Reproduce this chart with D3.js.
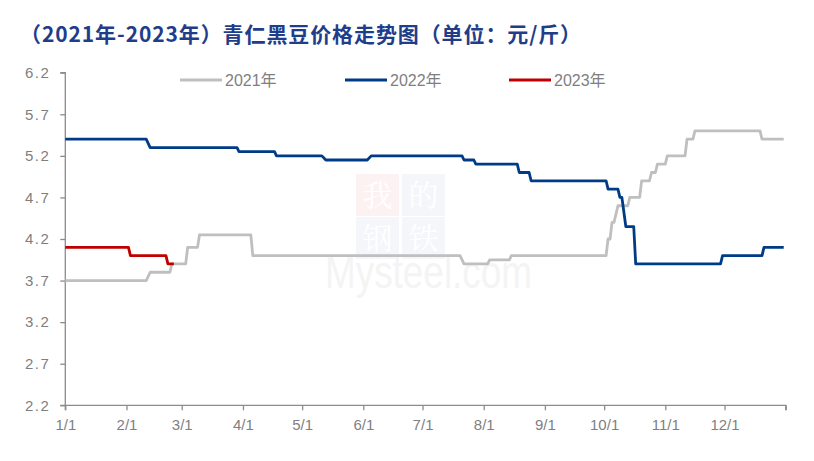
<!DOCTYPE html>
<html><head><meta charset="utf-8">
<script src="https://cdn.jsdelivr.net/npm/d3@7"></script>
<style>body{margin:0;background:#fff;} svg{display:block;}</style>
</head><body>
<svg id="chart" width="814" height="461"></svg>
<script>
// ---- data ----
const titleText = "（2021年-2023年）青仁黑豆价格走势图（单位：元/斤）";
const seriesNames = ["2021年", "2022年", "2023年"];
const seriesColors = ["#BFBFBF", "#003B87", "#C00000"];
const yTicks = [2.2, 2.7, 3.2, 3.7, 4.2, 4.7, 5.2, 5.7, 6.2];
const xTickLabels = ["1/1","2/1","3/1","4/1","5/1","6/1","7/1","8/1","9/1","10/1","11/1","12/1"];

const dates2021 = ["01-01","02-11","02-13","02-23","02-24","03-03","03-04","03-09","03-10","04-05","04-06",
  "07-20","07-22","08-03","08-04","08-14","08-15","10-02","10-03","10-04","10-05","10-06","10-07","10-08",
  "10-13","10-14","10-19","10-20","10-24","10-25","10-27","10-28","11-01","11-02","11-11","11-12",
  "11-15","11-16","12-19","12-20","12-31"];
const values2021 = [3.7,3.7,3.8,3.8,3.9,3.9,4.1,4.1,4.25,4.25,4.0,
  4.0,3.9,3.9,3.95,3.95,4.0,4.0,4.2,4.2,4.4,4.4,4.5,4.6,
  4.6,4.7,4.7,4.9,4.9,5.0,5.0,5.1,5.1,5.2,5.2,5.4,
  5.4,5.5,5.5,5.4,5.4];

const dates2022 = ["01-01","02-11","02-13","03-29","03-30","04-17","04-18","05-11","05-13","06-03","06-05",
  "07-21","07-22","07-27","07-28","08-18","08-19","08-24","08-25","10-02","10-03","10-08","10-09",
  "10-10","10-12","10-16","10-17","11-29","11-30","12-20","12-21","12-31"];
const values2022 = [5.4,5.4,5.3,5.3,5.25,5.25,5.2,5.2,5.15,5.15,5.2,
  5.2,5.15,5.15,5.1,5.1,5.0,5.0,4.9,4.9,4.8,4.8,4.7,
  4.7,4.35,4.35,3.9,3.9,4.0,4.0,4.1,4.1];

const dates2023 = ["01-01","02-02","02-03","02-21","02-22","02-25"];
const values2023 = [4.1,4.1,4.0,4.0,3.9,3.9];

// ---- build ----
const parse = s => { const [m,d] = s.split("-").map(Number); return new Date(2021, m-1, d); };
const series = [
  {name: seriesNames[0], color: seriesColors[0], pts: dates2021.map((d,i)=>({date: parse(d), v: values2021[i]}))},
  {name: seriesNames[1], color: seriesColors[1], pts: dates2022.map((d,i)=>({date: parse(d), v: values2022[i]}))},
  {name: seriesNames[2], color: seriesColors[2], pts: dates2023.map((d,i)=>({date: parse(d), v: values2023[i]}))}
];

const svg = d3.select("#chart");
const mLeft = 65.3, mRight = 785.7, mTop = 72.7, mBottom = 405.3;
const x = d3.scaleTime().domain([new Date(2021,0,1), new Date(2022,0,1)]).range([mLeft, mRight]);
const y = d3.scaleLinear().domain([2.2, 6.2]).range([mBottom, mTop]);

// title
svg.append("text").attr("x", 20).attr("y", 42)
  .attr("font-family", "'Noto Sans CJK SC', sans-serif").attr("font-weight", "bold")
  .attr("font-size", 21).attr("letter-spacing", 0.9).attr("fill", "#1F3D8A").text(titleText);

// watermark
const wm = svg.append("g");
const cells = [["我", "#FDF2F2", 356, 174], ["的", "#F4F6FA", 402, 174], ["钢", "#F4F6FA", 356, 217], ["铁", "#F4F6FA", 402, 217]];
cells.forEach(c => {
  wm.append("rect").attr("x", c[2]).attr("y", c[3]).attr("width", 43).attr("height", 42).attr("fill", c[1]);
});
wm.append("text").attr("x", 325).attr("y", 288).attr("font-family", "'Liberation Sans', Arial, sans-serif")
  .attr("font-size", 46).attr("textLength", 207).attr("lengthAdjust", "spacingAndGlyphs")
  .attr("fill", "#F4F4F4").text("Mysteel.com");
cells.forEach(c => {
  wm.append("text").attr("x", c[2] + 21.5).attr("y", c[3] + 32).attr("text-anchor", "middle")
    .attr("font-family", "'Noto Serif CJK SC','Noto Sans CJK SC',serif").attr("font-size", 30)
    .attr("fill", "#FFFFFF").text(c[0]);
});

// axes
const axisColor = "#8C8C8C", labelColor = "#7F7F7F";
const yAxis = svg.append("g").attr("transform", `translate(${mLeft},0)`)
  .call(d3.axisLeft(y).tickValues(yTicks).tickSize(5).tickPadding(10).tickFormat(d3.format(".1f")));
const xTickDates = d3.range(12).map(m => new Date(2021, m, 1)).concat([new Date(2022,0,1)]);
const xAxis = svg.append("g").attr("transform", `translate(0,${mBottom})`)
  .call(d3.axisBottom(x).tickValues(xTickDates).tickSize(5).tickPadding(9)
    .tickFormat((d,i) => i < xTickLabels.length ? xTickLabels[i] : ""));
[yAxis, xAxis].forEach(g => {
  g.select(".domain").attr("stroke", axisColor).attr("stroke-width", 1.3);
  g.selectAll(".tick line").attr("stroke", axisColor).attr("stroke-width", 1.3);
  g.selectAll(".tick text").attr("fill", labelColor).attr("font-size", 15)
    .attr("font-family", "'Liberation Sans', Arial, sans-serif");
});
yAxis.selectAll(".tick text").attr("letter-spacing", 1.5);
yAxis.select(".domain").attr("d", `M-5,${mTop}H0V${mBottom}H-5`);
xAxis.select(".domain").attr("d", `M${mLeft},5V0H${mRight}V5`);

// lines
const line = d3.line().x(d => x(d.date)).y(d => y(d.v));
series.forEach(s => {
  svg.append("path").datum(s.pts).attr("d", line).attr("fill", "none")
    .attr("stroke", s.color).attr("stroke-width", 2.8).attr("stroke-linejoin", "round");
});

// legend
const legendX = [180, 345, 509];
series.forEach((s, i) => {
  const g = svg.append("g").attr("transform", `translate(${legendX[i]},80)`);
  g.append("line").attr("x1", 0).attr("x2", 42).attr("y1", 0).attr("y2", 0)
    .attr("stroke", s.color).attr("stroke-width", 2.8);
  g.append("text").attr("x", 45).attr("y", 6).attr("font-size", 16).attr("fill", labelColor)
    .attr("font-family", "'Liberation Sans', Arial, 'Noto Sans CJK SC', sans-serif").text(s.name);
});
</script>
</body></html>
